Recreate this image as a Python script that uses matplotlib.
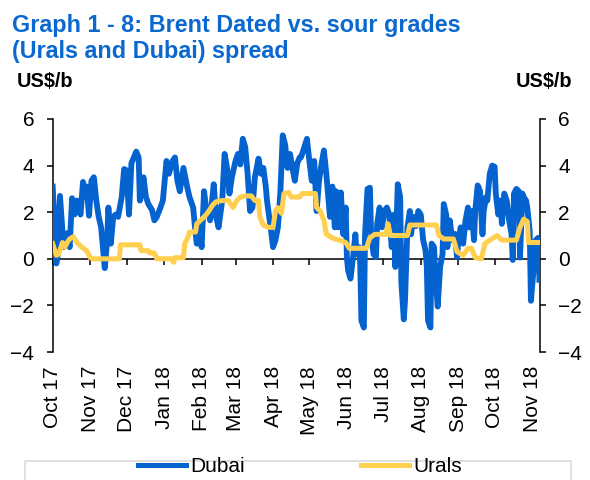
import matplotlib
matplotlib.use('Agg')
import matplotlib.pyplot as plt
from matplotlib.patches import Rectangle
from matplotlib.lines import Line2D
import pandas as pd

plt.rcParams['font.family'] = ['Liberation Sans', 'DejaVu Sans']

# day offsets from 1 Oct 2017, US$/b
dubai_days = [0, 3, 4, 6, 9, 12, 14, 16, 18, 20, 23, 25, 27, 28, 30, 32, 34, 36, 38, 40,
              43, 45, 46, 48, 50, 52, 54, 57, 59, 61, 63, 65, 69, 71, 72, 75, 77, 79, 82, 84,
              86, 89, 91, 94, 96, 99, 101, 103, 105, 108, 111, 113, 116, 118, 119, 121, 123, 125, 127, 129,
              130, 133, 135, 137, 140, 142, 144, 146, 148, 151, 153, 155, 157, 159, 161, 163, 165, 167, 170, 172,
              174, 176, 177, 180, 182, 184, 186, 188, 190, 192, 194, 196, 198, 200, 202, 204,
              205, 207, 210, 212, 214, 216, 218, 220, 222, 224, 226, 229, 231, 233, 234, 236, 238, 240, 242, 243,
              244, 246, 248, 250, 251, 253, 254, 255, 257, 258, 260, 262, 263, 265, 267, 268, 270, 272, 274, 276,
              278, 280, 282, 283, 285, 287, 288, 290, 291, 293, 295, 296, 298, 300, 302, 304, 306, 308, 309, 310,
              312, 313, 315, 316, 318, 320, 322, 323, 325, 326, 328, 330, 332, 334, 335, 337, 339, 341, 343, 344,
              346, 348, 349, 351, 353, 355, 356, 358, 359, 361, 363, 365, 366, 368, 370, 371, 373, 375, 377, 379,
              380, 381, 383, 385, 386, 388, 389, 391, 392, 394, 395, 396, 398, 399, 401, 402]
dubai = [3.1, -0.2, 0.1, 2.7, 0.5, 1.1, 0.5, 2.6, 1.9, 2.5, 1.9, 3.3, 2.8, 3.1, 1.85, 3.35, 3.5, 2.5, 1.8, 1.35,
         -0.4, 0.8, 2.2, 0.65, 1.8, 1.9, 1.8, 2.65, 3.85, 3.8, 1.9, 4.1, 4.6, 4.35, 2.5, 3.5, 2.65, 2.35, 2.1, 1.65,
         1.8, 2.2, 2.5, 4.2, 3.65, 4.2, 4.35, 3.35, 2.9, 3.9, 3.1, 2.65, 2.2, 1.1, 0.65, 1.35, 0.5, 2.9, 2.05, 1.9,
         1.65, 3.2, 1.8, 1.35, 2.5, 4.5, 3.9, 2.8, 3.5, 4.2, 4.5, 4.05, 5.15, 4.8, 3.65, 2.05, 2.2, 3.5, 4.3, 3.65,
         3.9, 3.1, 2.5, 1.35, 0.5, 0.8, 1.35, 2.8, 5.3, 4.9, 3.9, 4.5, 3.9, 3.35, 4.1, 4.35,
         4.35, 4.65, 5.15, 4.2, 3.35, 4.2, 2.05, 3.35, 4.05, 4.65, 3.65, 1.8, 3.1, 1.35, 2.9, 1.35, 2.85, 1.05, 2.2, 0.05,
         -0.5, -0.85, 0.05, 1.05, 0.2, 0.5, -0.2, -2.65, -2.95, 1.05, 3.0, 3.05, 1.05, 0.2, 0.07, 1.5, 2.2, 1.35, 2.05, 2.2,
         1.9, 0.5, 1.9, -0.35, 3.2, 2.65, -1.05, -2.6, -1.8, 1.35, 2.05, 1.05, 1.8, 1.4, 2.05, 1.9, 0.8, 0.35, -0.35, -2.65,
         -2.95, 0.65, 0.5, -0.65, -2.05, -0.35, 0.2, 2.35, 1.9, 0.5, 1.65, 0.8, 1.07, 0.07, 0.8, 1.35, 0.65, 1.65, 2.2, 1.35,
         2.05, 0.8, 2.05, 3.15, 2.9, 1.05, 2.05, 2.65, 2.5, 3.65, 4.0, 3.95, 2.8, 1.9, 2.5, 1.5, 2.8, 2.5, 1.65, 1.05,
         -0.05, 2.8, 3.0, 2.9, 0.05, 2.8, 2.65, 2.5, 2.2, 1.2, -1.8, -1.2, 0.07, 0.8, 0.9, -0.9]

urals_days = [0, 3, 5, 8, 10, 12, 14, 17, 20, 24, 28, 31, 33, 55, 56, 72, 73, 79, 80, 84,
              86, 98, 100, 101, 108, 109, 112, 113, 118, 119, 123, 126, 129, 132, 135, 140, 145, 149, 152, 155,
              159, 164, 167, 170, 171, 174, 178, 182, 184, 186, 189, 191, 195, 197, 204, 206, 217, 218, 221, 224,
              226, 231, 233, 237, 242, 245, 259, 262, 266, 275, 277, 279, 293, 295, 317, 319, 323, 331, 334, 339,
              343, 346, 349, 354, 357, 361, 367, 371, 383, 386, 389, 392, 393, 402]
urals = [0.65, 0.15, 0.2, 0.7, 0.5, 0.7, 0.85, 0.95, 0.7, 0.5, 0.35, 0.05, 0.0, 0.0, 0.6, 0.6, 0.35, 0.35, 0.25, 0.25,
         0.0, 0.0, -0.15, 0.05, 0.05, 0.65, 0.95, 1.15, 1.15, 1.5, 1.7, 1.85, 2.05, 2.3, 2.45, 2.5, 2.5, 2.2, 2.5, 2.65,
         2.7, 2.7, 2.5, 2.5, 1.8, 1.45, 1.35, 1.35, 2.05, 2.2, 1.95, 2.8, 2.85, 2.65, 2.65, 2.8, 2.8, 2.2, 2.05, 1.65,
         1.05, 0.9, 0.85, 0.8, 0.7, 0.45, 0.45, 0.9, 1.05, 1.05, 1.5, 1.0, 1.0, 1.45, 1.45, 1.0, 0.85, 0.85, 0.3, 0.15,
         0.45, 0.45, 0.05, 0.0, 0.65, 0.8, 1.0, 0.8, 0.8, 1.35, 1.7, 1.6, 0.7, 0.7]

months = ['Oct 17', 'Nov 17', 'Dec 17', 'Jan 18', 'Feb 18', 'Mar 18', 'Apr 18',
          'May 18', 'Jun 18', 'Jul 18', 'Aug 18', 'Sep 18', 'Oct 18', 'Nov 18']

start = pd.Timestamp('2017-10-01')
dubai_x = start + pd.to_timedelta(dubai_days, unit='D')
urals_x = start + pd.to_timedelta(urals_days, unit='D')
month_x = pd.date_range(start, periods=len(months), freq='MS')

blue = '#0563d0'
yellow = '#ffcf4f'

fig = plt.figure(figsize=(5.9, 4.8), dpi=100)
ax = fig.add_axes([52.7 / 590, 1 - 352 / 480, 487.3 / 590, 233 / 480])

ax.plot(dubai_x, dubai, color=blue, lw=4.2, solid_joinstyle='round', zorder=3)
ax.plot(urals_x, urals, color=yellow, lw=3.6, solid_joinstyle='round', zorder=4)

ax.set_xlim(start, start + pd.Timedelta(days=402.5))
ax.set_ylim(-4, 6)
ax.set_yticks(range(-4, 7, 2))

ax.spines['top'].set_visible(False)
ax.spines['bottom'].set_position(('data', 0))
ax.spines['bottom'].set_zorder(2)
for s in ['left', 'right', 'bottom']:
    ax.spines[s].set_linewidth(1.1)

ax.set_xticks(month_x)
ax.tick_params(axis='x', direction='out', length=4, width=1.1, labelbottom=False)
ax.tick_params(axis='y', direction='out', length=4.3, width=1.1, right=True,
               labelright=True, labelsize=15, pad=9)

for d, lab in zip(month_x, months):
    ax.annotate(lab, xy=(d, 0), xycoords=('data', 'axes fraction'),
                xytext=(0, -14), textcoords='offset pixels',
                rotation=90, ha='center', va='top', fontsize=15)

title_col = '#0b68cf'
fig.text(12 / 590, 1 - 32 / 480, 'Graph 1 - 8: Brent Dated vs. sour grades',
         fontsize=16.8, fontweight='bold', color=title_col, va='baseline')
fig.text(12 / 590, 1 - 58 / 480, '(Urals and Dubai) spread',
         fontsize=16.8, fontweight='bold', color=title_col, va='baseline')
fig.text(17 / 590, 1 - 87 / 480, 'US$/b', fontsize=14.3, fontweight='bold', va='baseline')
fig.text(572 / 590, 1 - 87 / 480, 'US$/b', fontsize=14.3, fontweight='bold',
         va='baseline', ha='right')

fig.patches.append(Rectangle((25 / 590, -0.05), 546 / 590, 0.05 + 19 / 480,
                             transform=fig.transFigure, fill=False,
                             edgecolor='#d9d9d9', lw=1.2))
handles = [Line2D([], [], color=blue, lw=3.6), Line2D([], [], color=yellow, lw=3.6)]
fig.legend(handles, ['Dubai', 'Urals'], loc='center', bbox_to_anchor=(300 / 590, 1 - 467 / 480),
           ncol=2, frameon=False, fontsize=15, handlelength=2.3, handletextpad=0.2,
           columnspacing=5.6, borderpad=0, borderaxespad=0)

fig.savefig('out.png', dpi=100)
